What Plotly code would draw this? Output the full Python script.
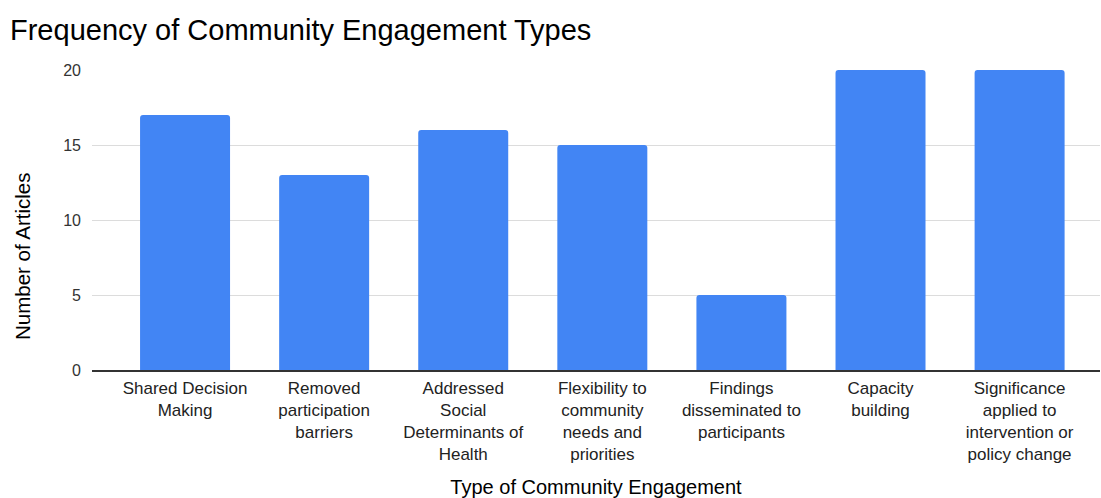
import plotly.graph_objects as go

categories = [
    "Shared Decision<br>Making",
    "Removed<br>participation<br>barriers",
    "Addressed<br>Social<br>Determinants of<br>Health",
    "Flexibility to<br>community<br>needs and<br>priorities",
    "Findings<br>disseminated to<br>participants",
    "Capacity<br>building",
    "Significance<br>applied to<br>intervention or<br>policy change",
]
values = [17, 13, 16, 15, 5, 20, 20]
y_ticks = [0, 5, 10, 15, 20]

FONT = "Liberation Sans, Arial, sans-serif"

fig = go.Figure(
    go.Bar(
        x=list(range(len(categories))),
        y=values,
        marker=dict(color="#4285F4", line=dict(width=0)),
    )
)

fig.update_layout(
    width=1101,
    height=498,
    margin=dict(l=92, r=1, t=70, b=128),
    paper_bgcolor="white",
    plot_bgcolor="white",
    bargap=0.353,
    barcornerradius=3,
    showlegend=False,
    font=dict(family=FONT, color="#222"),
    title=dict(
        text="Frequency of Community Engagement Types",
        font=dict(family=FONT, size=29, color="#000"),
        xref="container", yref="container",
        x=10 / 1101, xanchor="left",
        y=1 - 30 / 498, yanchor="middle",
    ),
    annotations=[
        dict(
            text="Number of Articles",
            textangle=-90,
            xref="paper", yref="paper",
            x=(22 - 92) / 1008, y=(370 - 257) / 300,
            xanchor="center", yanchor="middle",
            showarrow=False,
            font=dict(family=FONT, size=20.5, color="#000"),
        )
    ],
)

fig.update_xaxes(
    tickmode="array",
    tickvals=list(range(len(categories))),
    ticktext=categories,
    range=[-0.669, 6.578],
    tickfont=dict(family=FONT, size=17, color="#222"),
    showgrid=False,
    zeroline=False,
    showline=True,
    linecolor="#333",
    linewidth=1.5,
    ticks="",
    ticklabelstandoff=2,
    title=dict(text="Type of Community Engagement",
               font=dict(family=FONT, size=20, color="#000"),
               standoff=28),
    automargin=False,
)

fig.update_yaxes(
    range=[0, 20],
    tickmode="array",
    tickvals=y_ticks,
    tickfont=dict(family=FONT, size=16, color="#333"),
    showgrid=True,
    gridcolor="#dcdcdc",
    gridwidth=1,
    zeroline=False,
    showline=False,
    ticks="",
    ticklabelstandoff=10,
    automargin=False,
)

fig.write_html(
    "out.html",
    config={"displayModeBar": False},
    post_script="document.body.style.margin='0';document.body.style.overflow='hidden';",
)
